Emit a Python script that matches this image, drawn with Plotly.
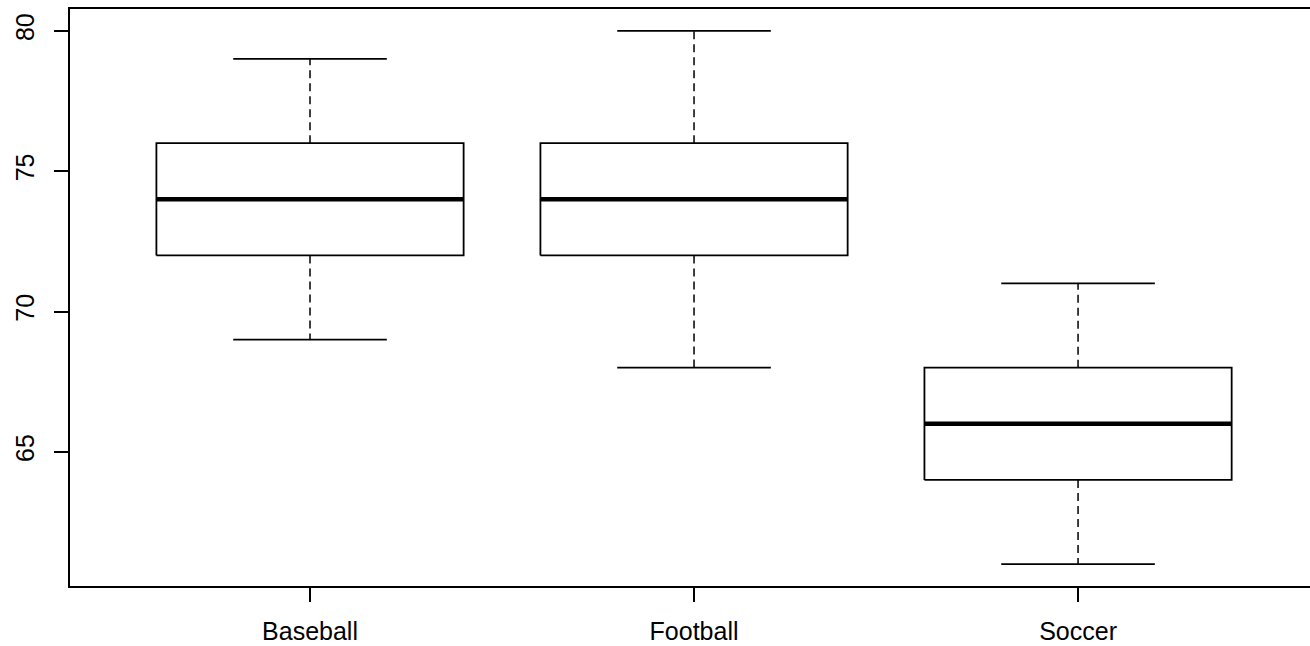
import plotly.graph_objects as go

# Five-number summaries per sport
sports = ["Baseball", "Football", "Soccer"]
lower_whisker = [69, 68, 61]
q1 = [72, 72, 64]
median = [74, 74, 66]
q3 = [76, 76, 68]
upper_whisker = [79, 80, 71]

y_ticks = [65, 70, 75, 80]

BOX_HALF = 0.4
CAP_HALF = 0.2
INK = "#000000"

fig = go.Figure()

for i, name in enumerate(sports):
    xc = i + 1
    # dashed whiskers
    for a, b in ((q3[i], upper_whisker[i]), (q1[i], lower_whisker[i])):
        fig.add_trace(go.Scatter(
            x=[xc, xc], y=[a, b], mode="lines",
            line=dict(color=INK, width=1.5, dash="8px,5px"),
            hoverinfo="skip", showlegend=False))
    # whisker caps
    for v in (upper_whisker[i], lower_whisker[i]):
        fig.add_trace(go.Scatter(
            x=[xc - CAP_HALF, xc + CAP_HALF], y=[v, v], mode="lines",
            line=dict(color=INK, width=1.8),
            hoverinfo="skip", showlegend=False))
    # box
    fig.add_trace(go.Scatter(
        x=[xc - BOX_HALF, xc + BOX_HALF, xc + BOX_HALF, xc - BOX_HALF, xc - BOX_HALF],
        y=[q1[i], q1[i], q3[i], q3[i], q1[i]],
        mode="lines", fill="toself", fillcolor="white",
        line=dict(color=INK, width=1.8),
        name=name, showlegend=False))
    # median
    fig.add_trace(go.Scatter(
        x=[xc - BOX_HALF, xc + BOX_HALF], y=[median[i], median[i]], mode="lines",
        line=dict(color=INK, width=4.5),
        hoverinfo="skip", showlegend=False))

fig.update_layout(
    width=1310, height=646,
    margin=dict(l=70, r=0, t=9, b=60),
    paper_bgcolor="white", plot_bgcolor="white",
    font=dict(family="Liberation Sans, Arial, sans-serif", size=25, color=INK),
    xaxis=dict(
        range=[0.375, 3.604],
        tickvals=[1, 2, 3], ticktext=sports,
        tickfont=dict(size=25),
        showgrid=False, zeroline=False,
        showline=True, mirror=True, linecolor=INK, linewidth=1.5,
        ticks="outside", ticklen=14, tickwidth=1.5, tickcolor=INK,
        ticklabelstandoff=8,
    ),
    yaxis=dict(
        range=[60.22, 80.78],
        tickvals=y_ticks, ticktext=[str(v) for v in y_ticks],
        tickfont=dict(size=25),
        tickangle=-90,
        showgrid=False, zeroline=False,
        showline=True, linecolor=INK, linewidth=1.5,
        ticks="outside", ticklen=14, tickwidth=1.5, tickcolor=INK,
        ticklabelstandoff=10,
    ),
)

fig.write_html("out.html")
